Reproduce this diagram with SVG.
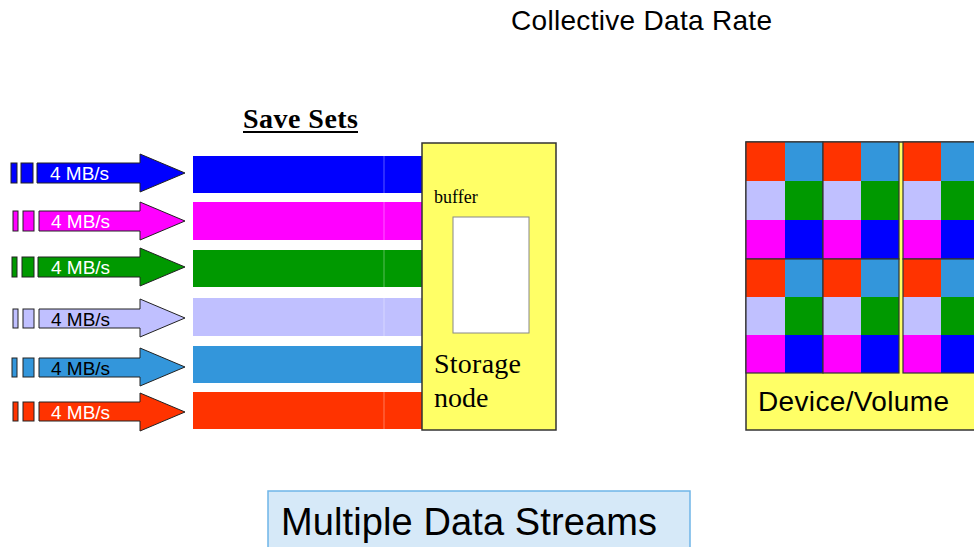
<svg xmlns="http://www.w3.org/2000/svg" width="974" height="547" viewBox="0 0 974 547">
<style>
.sans{font-family:"Liberation Sans",Arial,sans-serif}
.serif{font-family:"Liberation Serif","Times New Roman",serif}
.arr{stroke:#222;stroke-width:1}
.lbl{font-size:19px}
.w{fill:#fff}
.k{fill:#000}
.div{stroke:#fff;stroke-opacity:0.35;stroke-width:1}
.blk{fill:none;stroke:#333;stroke-width:1.2}
.c-b{fill:#0000FF}.c-m{fill:#FF00FF}.c-g{fill:#009900}.c-l{fill:#C0C0FF}.c-s{fill:#3396DB}.c-r{fill:#FF3300}
</style>
<rect width="974" height="547" fill="#fff"/>
<text class="sans" x="511" y="30" font-size="28" textLength="261" fill="#000">Collective Data Rate</text>

<g id="save-sets-title">
<text class="serif" x="243" y="128" font-size="28" font-weight="bold" textLength="115" fill="#000">Save Sets</text>
<line x1="243" y1="132" x2="358" y2="132" stroke="#000" stroke-width="2"/>
</g>

<g id="connectors">
<g id="arrow1">
<rect class="arr c-b" x="11" y="163" width="6" height="20"/>
<rect class="arr c-b" x="21" y="163" width="12" height="20"/>
<polygon class="arr c-b" points="37,163 140,163 140,154 185,173 140,192 140,183 37,183"/>
<text class="sans lbl w" x="50" y="180">4 MB/s</text>
</g>
<g id="arrow2">
<rect class="arr c-m" x="13" y="211" width="5" height="20"/>
<rect class="arr c-m" x="23" y="211" width="11" height="20"/>
<polygon class="arr c-m" points="39,211 140,211 140,202 185,221 140,240 140,231 39,231"/>
<text class="sans lbl w" x="51" y="228">4 MB/s</text>
</g>
<g id="arrow3">
<rect class="arr c-g" x="12" y="257" width="5" height="20"/>
<rect class="arr c-g" x="22" y="257" width="12" height="20"/>
<polygon class="arr c-g" points="38,257 140,257 140,248 185,267 140,286 140,277 38,277"/>
<text class="sans lbl w" x="51" y="274">4 MB/s</text>
</g>
<g id="arrow4">
<rect class="arr c-l" x="13" y="309" width="5" height="19"/>
<rect class="arr c-l" x="23" y="309" width="11" height="19"/>
<polygon class="arr c-l" points="39,309 140,309 140,299 185,318 140,337 140,328 39,328"/>
<text class="sans lbl k" x="51" y="325.5">4 MB/s</text>
</g>
<g id="arrow5">
<rect class="arr c-s" x="12" y="358" width="5" height="19"/>
<rect class="arr c-s" x="23" y="358" width="11" height="19"/>
<polygon class="arr c-s" points="39,358 140,358 140,348 185,367 140,386 140,377 39,377"/>
<text class="sans lbl k" x="51" y="374.5">4 MB/s</text>
</g>
<g id="arrow6">
<rect class="arr c-r" x="13" y="402" width="5" height="19"/>
<rect class="arr c-r" x="23" y="402" width="11" height="19"/>
<polygon class="arr c-r" points="39,402 140,402 140,393 185,412 140,431 140,421 39,421"/>
<text class="sans lbl w" x="51" y="419">4 MB/s</text>
</g>
</g>

<g id="save-sets">
<rect class="c-b" x="193" y="156" width="230" height="37"/>
<rect class="c-m" x="193" y="202" width="230" height="38"/>
<rect class="c-g" x="193" y="250" width="230" height="37"/>
<rect class="c-l" x="193" y="298" width="230" height="38"/>
<rect class="c-s" x="193" y="346" width="230" height="37"/>
<rect class="c-r" x="193" y="392" width="230" height="37"/>
<line class="div" x1="384" y1="156" x2="384" y2="193"/>
<line class="div" x1="384" y1="202" x2="384" y2="240"/>
<line class="div" x1="384" y1="250" x2="384" y2="287"/>
<line class="div" x1="384" y1="298" x2="384" y2="336"/>
<line class="div" x1="384" y1="392" x2="384" y2="429"/>
</g>

<g id="storage-node">
<rect x="422" y="143" width="134" height="287" fill="#FFFF66" stroke="#333" stroke-width="1.5"/>
<text class="serif" x="434" y="203" font-size="18" fill="#000">buffer</text>
<rect x="453" y="217" width="76" height="116" fill="#fff" stroke="#888" stroke-width="1"/>
<text class="serif" x="434" y="373" font-size="28" textLength="87" fill="#000">Storage</text>
<text class="serif" x="434" y="407" font-size="28" fill="#000">node</text>
</g>

<g id="device-volume">
<rect x="746" y="142" width="240" height="288" fill="#FFFF66" stroke="#333" stroke-width="1.5"/>
<g id="block-1-1">
<rect class="c-r" x="746" y="142" width="39" height="39"/><rect class="c-s" x="785" y="142" width="38" height="39"/>
<rect class="c-l" x="746" y="181" width="39" height="39"/><rect class="c-g" x="785" y="181" width="38" height="39"/>
<rect class="c-m" x="746" y="220" width="39" height="39"/><rect class="c-b" x="785" y="220" width="38" height="39"/>
<rect class="blk" x="746" y="142" width="77" height="117"/>
</g>
<g id="block-1-2">
<rect class="c-r" x="823" y="142" width="38" height="39"/><rect class="c-s" x="861" y="142" width="38" height="39"/>
<rect class="c-l" x="823" y="181" width="38" height="39"/><rect class="c-g" x="861" y="181" width="38" height="39"/>
<rect class="c-m" x="823" y="220" width="38" height="39"/><rect class="c-b" x="861" y="220" width="38" height="39"/>
<rect class="blk" x="823" y="142" width="76" height="117"/>
</g>
<g id="block-1-3">
<rect class="c-r" x="903" y="142" width="38" height="39"/><rect class="c-s" x="941" y="142" width="38" height="39"/>
<rect class="c-l" x="903" y="181" width="38" height="39"/><rect class="c-g" x="941" y="181" width="38" height="39"/>
<rect class="c-m" x="903" y="220" width="38" height="39"/><rect class="c-b" x="941" y="220" width="38" height="39"/>
<rect class="blk" x="903" y="142" width="76" height="117"/>
</g>
<g id="block-2-1">
<rect class="c-r" x="746" y="259" width="39" height="38"/><rect class="c-s" x="785" y="259" width="38" height="38"/>
<rect class="c-l" x="746" y="297" width="39" height="38"/><rect class="c-g" x="785" y="297" width="38" height="38"/>
<rect class="c-m" x="746" y="335" width="39" height="38"/><rect class="c-b" x="785" y="335" width="38" height="38"/>
<rect class="blk" x="746" y="259" width="77" height="114"/>
</g>
<g id="block-2-2">
<rect class="c-r" x="823" y="259" width="38" height="38"/><rect class="c-s" x="861" y="259" width="38" height="38"/>
<rect class="c-l" x="823" y="297" width="38" height="38"/><rect class="c-g" x="861" y="297" width="38" height="38"/>
<rect class="c-m" x="823" y="335" width="38" height="38"/><rect class="c-b" x="861" y="335" width="38" height="38"/>
<rect class="blk" x="823" y="259" width="76" height="114"/>
</g>
<g id="block-2-3">
<rect class="c-r" x="903" y="259" width="38" height="38"/><rect class="c-s" x="941" y="259" width="38" height="38"/>
<rect class="c-l" x="903" y="297" width="38" height="38"/><rect class="c-g" x="941" y="297" width="38" height="38"/>
<rect class="c-m" x="903" y="335" width="38" height="38"/><rect class="c-b" x="941" y="335" width="38" height="38"/>
<rect class="blk" x="903" y="259" width="76" height="114"/>
</g>
<text class="sans" x="758" y="411" font-size="28" textLength="191" fill="#000">Device/Volume</text>
</g>

<g id="multiple-data-streams">
<rect x="268" y="491" width="422" height="70" fill="#D6E9F8" stroke="#6FB5E8" stroke-width="1.5"/>
<text class="sans" x="281" y="535" font-size="38" textLength="376" fill="#000">Multiple Data Streams</text>
</g>
</svg>
